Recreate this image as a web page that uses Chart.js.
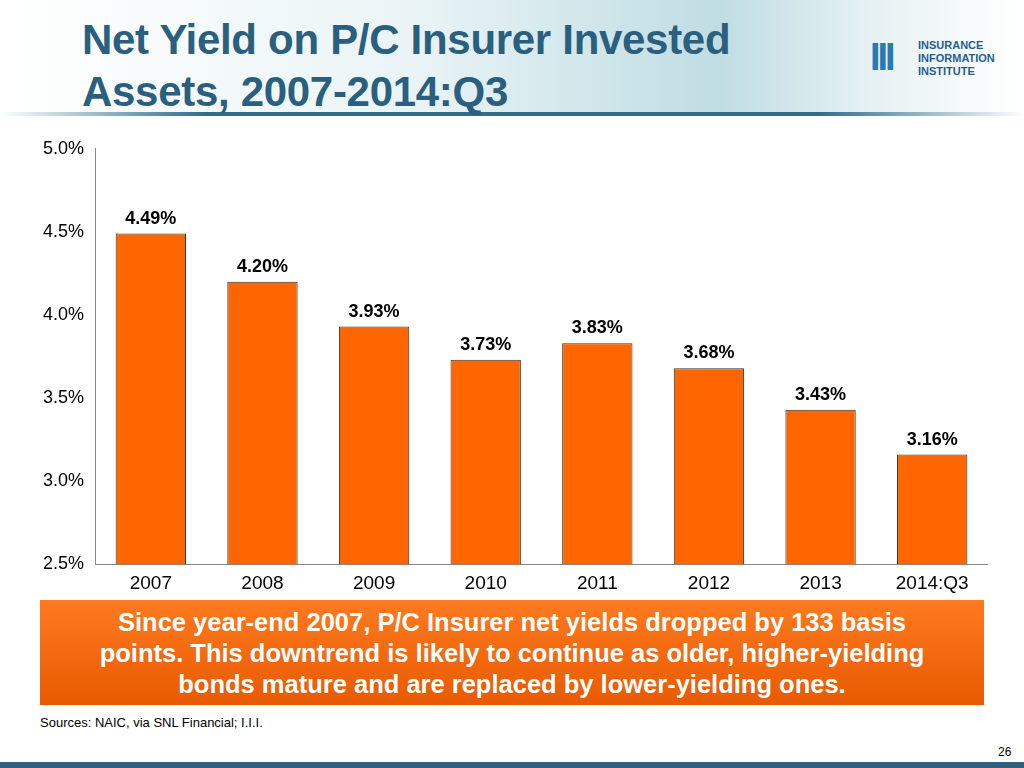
<!DOCTYPE html>
<html><head><meta charset="utf-8">
<script src="https://cdn.jsdelivr.net/npm/chart.js@4"></script>
<style>
body{margin:0;width:1024px;height:768px;position:relative;background:#fff;font-family:Arial,"Liberation Sans",sans-serif;overflow:hidden}
#hdr{position:absolute;left:0;top:0;width:1024px;height:112px;background:linear-gradient(90deg,#fff 0%,#eaf4f6 40%,#bfdde3 70%,#e6f1f3 85%,#fff 100%)}
#hline{position:absolute;left:0;top:112px;width:1024px;height:4px;background:linear-gradient(90deg,#fff,#2d6e8e 20%,#2d6e8e 80%,#fff)}
#title{position:absolute;left:82px;top:14px;font-size:42px;font-weight:bold;color:#2b5f80;line-height:52px;letter-spacing:-0.3px}
#logo{position:absolute;left:870px;top:38px;width:140px;height:40px}
#logo .mk{position:absolute;left:0;top:-2px;font-size:38px;font-weight:bold;color:#2a7ab0;letter-spacing:-3px}
#logo .tx{position:absolute;left:48px;top:1px;font-size:11px;font-weight:bold;color:#1f5f90;line-height:13px}
#wrap{position:absolute;left:40px;top:135px;width:948px;height:460px}
#box{position:absolute;left:40px;top:600px;width:944px;height:105px;background:linear-gradient(180deg,#ff7a20,#e85a00);color:#fff;font-weight:bold;font-size:25.5px;text-align:center;line-height:31px;padding:7px 0 0 0;box-sizing:border-box}
#src{position:absolute;left:40px;top:715px;font-size:13px;color:#000}
#pg{position:absolute;left:998px;top:745px;font-size:12px;color:#000}
#bot{position:absolute;left:0;top:762px;width:1024px;height:6px;background:#2d5f7e}
</style></head><body>
<div id="hdr"></div><div id="hline"></div>
<div id="title">Net Yield on P/C Insurer Invested<br>Assets, 2007-2014:Q3</div>
<div id="logo"><div class="mk">III</div><div class="tx">INSURANCE<br>INFORMATION<br>INSTITUTE</div></div>
<div id="wrap"><canvas id="c"></canvas></div>
<div id="box">Since year-end 2007, P/C Insurer net yields dropped by 133 basis<br>points. This downtrend is likely to continue as older, higher-yielding<br>bonds mature and are replaced by lower-yielding ones.</div>
<div id="src">Sources: NAIC, via SNL Financial; I.I.I.</div>
<div id="pg">26</div>
<div id="bot"></div>
<script>
const categories=["2007","2008","2009","2010","2011","2012","2013","2014:Q3"];
const yields=[4.49,4.20,3.93,3.73,3.83,3.68,3.43,3.16];
const labelPlugin={id:'lbl',afterDatasetsDraw(ch){const c=ch.ctx;const m=ch.getDatasetMeta(0);c.save();c.font='bold 18px Arial';c.fillStyle='#000';c.textAlign='center';c.textBaseline='bottom';
m.data.forEach((b,i)=>{c.fillText(yields[i].toFixed(2)+'%',b.x,b.y-6);});c.restore();}};
new Chart(document.getElementById('c'),{type:'bar',
data:{labels:categories,datasets:[{data:yields,backgroundColor:'#ff6600',borderColor:'#333',borderWidth:1,categoryPercentage:1,barPercentage:0.63}]},
options:{responsive:true,maintainAspectRatio:false,animation:false,
plugins:{legend:{display:false},tooltip:{enabled:false}},
layout:{padding:{top:5,right:0}},
scales:{y:{min:2.5,max:5.0,ticks:{stepSize:0.5,color:'#000',font:{size:18,family:'Arial'},callback:v=>v.toFixed(1)+'%'},grid:{display:false},border:{color:'#888'}},
x:{ticks:{color:'#000',font:{size:19,family:'Arial'},padding:0},grid:{display:false},border:{color:'#888'}}}},
plugins:[labelPlugin]});
</script></body></html>
